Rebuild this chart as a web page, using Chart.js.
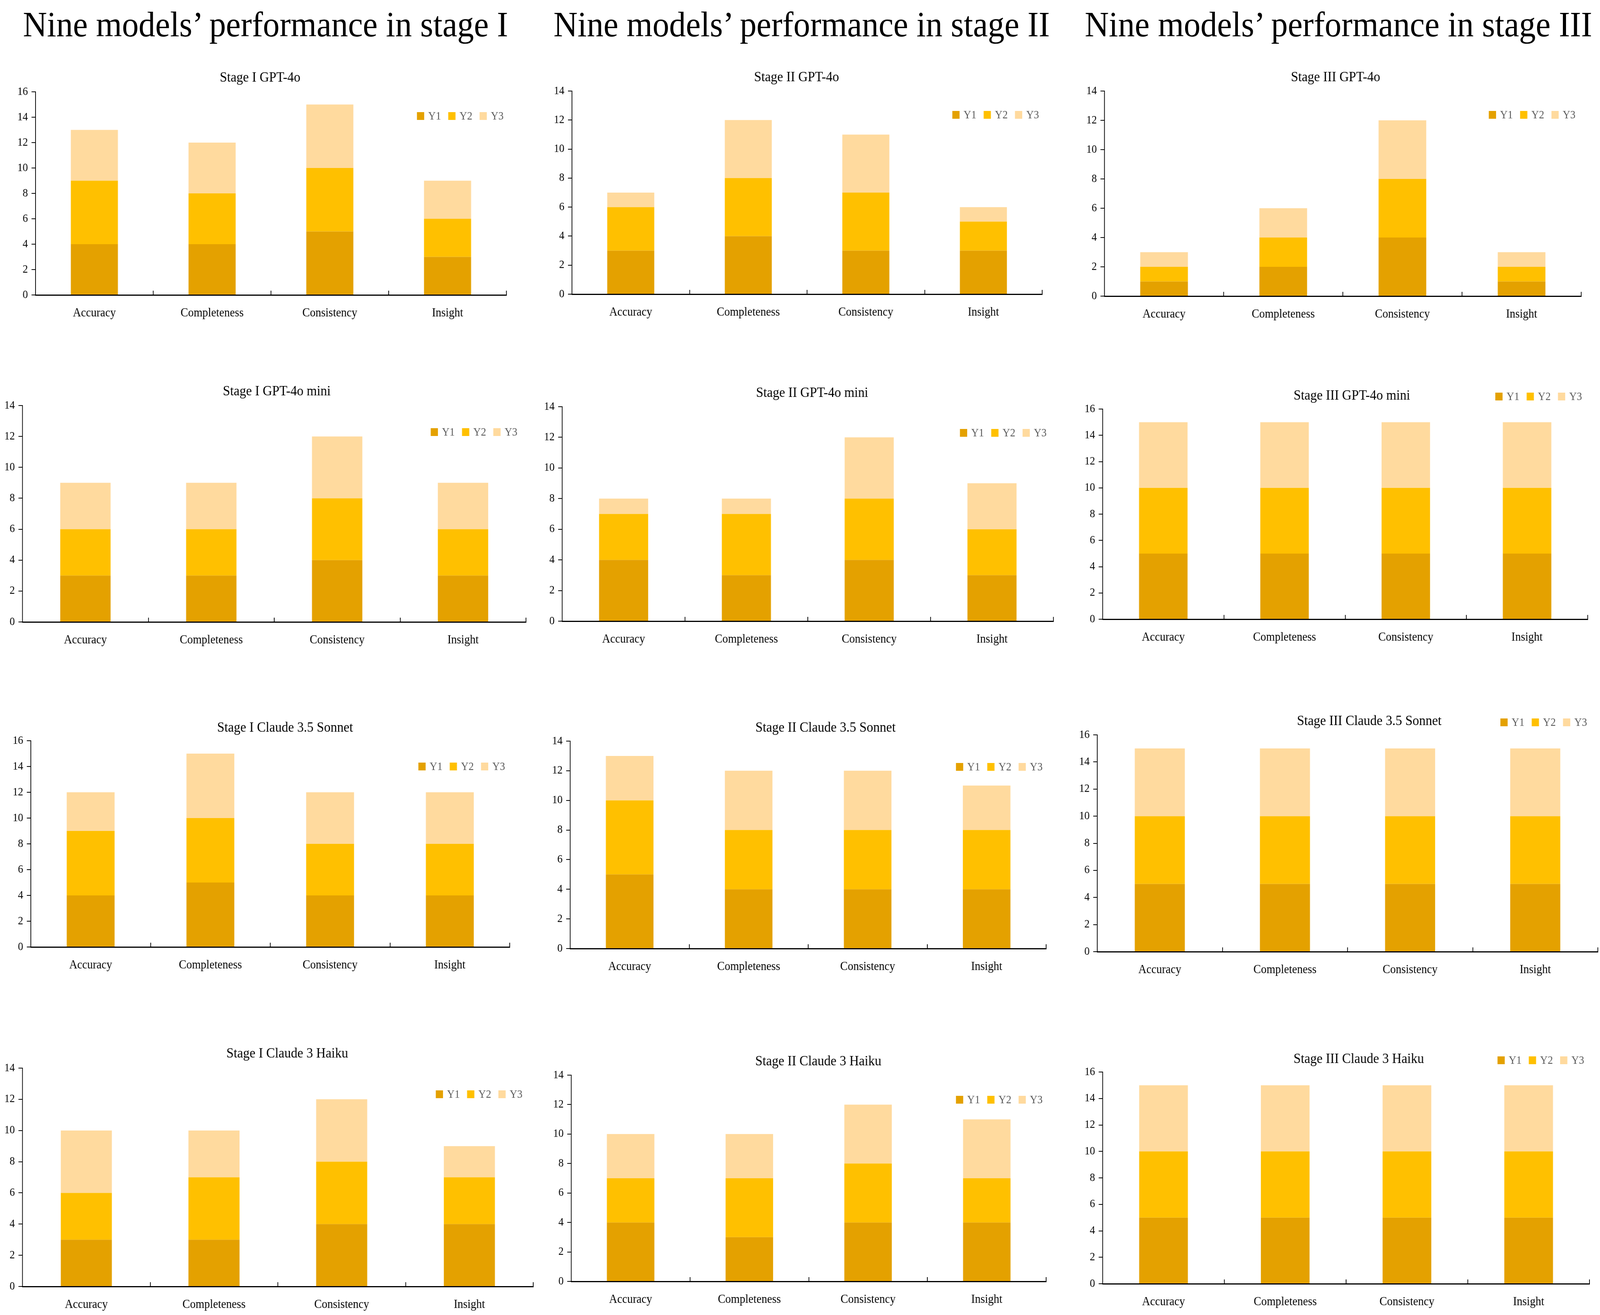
<!DOCTYPE html>
<html>
<head>
<meta charset="utf-8">
<title>Nine models' performance by stage</title>
<script src="https://cdn.jsdelivr.net/npm/chart.js@4.4.1/dist/chart.umd.min.js"></script>
<style>
    html, body { margin: 0; padding: 0; background: #fff; overflow: hidden; }
    #viewport { position: relative; overflow: hidden; }
    #page { position: absolute; left: 0; top: 0; width: 4417px; height: 3366px; transform-origin: 0 0; }
    .stage-title {
        position: absolute;
        top: 16px;
        font: 92px/1 "Liberation Serif", "DejaVu Serif", serif;
        color: #000;
        white-space: nowrap;
        transform: translateX(-50%);
    }
    canvas { position: absolute; }
</style>
</head>
<body>
<div id="viewport">
<div id="page">
    <div class="stage-title" style="left:733px">Nine models’ performance in stage I</div>
    <div class="stage-title" style="left:2213px">Nine models’ performance in stage II</div>
    <div class="stage-title" style="left:3695px">Nine models’ performance in stage III</div>
</div>
</div>

<script>
const FONT = '"Liberation Serif", "DejaVu Serif", serif';
const PAGE_W = 4417;
const PAGE_H = 3366;

const categories = ['Accuracy', 'Completeness', 'Consistency', 'Insight'];
const seriesNames = ['Y1', 'Y2', 'Y3'];
const seriesColors = ['#E4A100', '#FFC000', '#FFDA9E'];

// values per panel, one row per series: [Y1, Y2, Y3]
const stage1Gpt4o      = [[4, 4, 5, 3], [5, 4, 5, 3], [4, 4, 5, 3]];
const stage2Gpt4o      = [[3, 4, 3, 3], [3, 4, 4, 2], [1, 4, 4, 1]];
const stage3Gpt4o      = [[1, 2, 4, 1], [1, 2, 4, 1], [1, 2, 4, 1]];
const stage1Gpt4oMini  = [[3, 3, 4, 3], [3, 3, 4, 3], [3, 3, 4, 3]];
const stage2Gpt4oMini  = [[4, 3, 4, 3], [3, 4, 4, 3], [1, 1, 4, 3]];
const stage3Gpt4oMini  = [[5, 5, 5, 5], [5, 5, 5, 5], [5, 5, 5, 5]];
const stage1Sonnet     = [[4, 5, 4, 4], [5, 5, 4, 4], [3, 5, 4, 4]];
const stage2Sonnet     = [[5, 4, 4, 4], [5, 4, 4, 4], [3, 4, 4, 3]];
const stage3Sonnet     = [[5, 5, 5, 5], [5, 5, 5, 5], [5, 5, 5, 5]];
const stage1Haiku      = [[3, 3, 4, 4], [3, 4, 4, 3], [4, 3, 4, 2]];
const stage2Haiku      = [[4, 3, 4, 4], [3, 4, 4, 3], [3, 3, 4, 4]];
const stage3Haiku      = [[5, 5, 5, 5], [5, 5, 5, 5], [5, 5, 5, 5]];

const panelValues = [
    stage1Gpt4o, stage2Gpt4o, stage3Gpt4o,
    stage1Gpt4oMini, stage2Gpt4oMini, stage3Gpt4oMini,
    stage1Sonnet, stage2Sonnet, stage3Sonnet,
    stage1Haiku, stage2Haiku, stage3Haiku
];

const panelTitles = [
    'Stage I GPT-4o', 'Stage II GPT-4o', 'Stage III GPT-4o',
    'Stage I GPT-4o mini', 'Stage II GPT-4o mini', 'Stage III GPT-4o mini',
    'Stage I Claude 3.5 Sonnet', 'Stage II Claude 3.5 Sonnet', 'Stage III Claude 3.5 Sonnet',
    'Stage I Claude 3 Haiku', 'Stage II Claude 3 Haiku', 'Stage III Claude 3 Haiku'
];

const axisMax = [16, 14, 14, 14, 14, 16, 16, 14, 16, 14, 14, 16];

// page positions: [axisX, plotTop, plotRight, zeroY, titleX, titleY, legendX, legendY]
const panelLayout = [
    [98,   235,  1398, 755,  718,  200,  1151, 297],
    [1579, 233,  2877, 753,  2199, 199,  2629, 294],
    [3049, 233,  4365, 758,  3687, 199,  4110, 294],
    [62,   1038, 1452, 1592, 764,  1003, 1189, 1106],
    [1552, 1041, 2908, 1590, 2242, 1007, 2650, 1108],
    [3044, 1047, 4383, 1585, 3732, 1014, 4128, 1015],
    [85,   1896, 1407, 2424, 787,  1864, 1155, 1962],
    [1574, 1897, 2888, 2428, 2279, 1864, 2639, 1963],
    [3029, 1881, 4411, 2436, 3780, 1847, 4142, 1849],
    [62,   2734, 1472, 3293, 793,  2698, 1203, 2801],
    [1577, 2752, 2888, 3280, 2259, 2718, 2639, 2815],
    [3044, 2744, 4388, 3286, 3751, 2712, 4134, 2714]
];

const Y_AXIS_W = 70;
const X_AXIS_H = 80;

// draws the panel title and the small legend row
const panelText = {
    id: 'panelText',
    afterDraw(chart, args, opts) {
        const ctx = chart.ctx;
        ctx.save();
        ctx.fillStyle = '#000';
        ctx.font = '36px ' + FONT;
        ctx.textAlign = 'center';
        ctx.textBaseline = 'middle';
        ctx.fillText(opts.text, opts.titleX, opts.titleY);

        ctx.font = '29px ' + FONT;
        ctx.textAlign = 'left';
        let x = opts.legendX;
        chart.data.datasets.forEach(ds => {
            ctx.fillStyle = ds.backgroundColor;
            ctx.fillRect(x, opts.legendY - 10, 20, 20);
            x += 31;
            ctx.fillStyle = '#595959';
            ctx.fillText(ds.label, x, opts.legendY + 1);
            x += ctx.measureText(ds.label).width + 20;
        });
        ctx.restore();
    }
};

// the browser viewport may be smaller than 4417x3366: stretch the fixed layout onto it
function fitPage() {
    const sx = window.innerWidth / PAGE_W;
    const sy = window.innerHeight / PAGE_H;
    const vp = document.getElementById('viewport');
    vp.style.width = window.innerWidth + 'px';
    vp.style.height = window.innerHeight + 'px';
    document.getElementById('page').style.transform = 'scale(' + sx + ',' + sy + ')';
}

function createPanel(i) {
    const [axisX, plotTop, plotRight, zeroY, titleX, titleY, legendX, legendY] = panelLayout[i];
    const left = axisX - Y_AXIS_W;
    const top = titleY - 40;
    const right = Math.min(PAGE_W, Math.max(plotRight, legendX + 250) + 12);
    const bottom = zeroY + X_AXIS_H;

    const canvas = document.createElement('canvas');
    canvas.width = right - left;
    canvas.height = bottom - top;
    canvas.style.left = left + 'px';
    canvas.style.top = top + 'px';
    canvas.style.width = canvas.width + 'px';
    canvas.style.height = canvas.height + 'px';
    document.getElementById('page').appendChild(canvas);

    const values = panelValues[i];

    new Chart(canvas.getContext('2d'), {
        type: 'bar',
        data: {
            labels: categories,
            datasets: seriesNames.map((name, s) => ({
                label: name,
                data: values[s],
                backgroundColor: seriesColors[s],
                borderWidth: 0,
                barPercentage: 0.4,
                categoryPercentage: 1
            }))
        },
        options: {
            responsive: false,
            animation: false,
            devicePixelRatio: 1,
            layout: {
                padding: { top: plotTop - top, right: right - plotRight, left: 0, bottom: 0 }
            },
            plugins: {
                legend: { display: false },
                title: { display: false },
                tooltip: { enabled: false },
                panelText: {
                    text: panelTitles[i],
                    titleX: titleX - left,
                    titleY: titleY - top,
                    legendX: legendX - left,
                    legendY: legendY - top
                }
            },
            scales: {
                x: {
                    stacked: true,
                    grid: { drawOnChartArea: false, drawTicks: true, tickLength: -11, color: '#000', lineWidth: 2 },
                    border: { display: true, color: '#000', width: 3 },
                    ticks: { color: '#000', font: { family: FONT, size: 31 }, padding: 39, maxRotation: 0, autoSkip: false },
                    afterFit: scale => { scale.height = X_AXIS_H; }
                },
                y: {
                    stacked: true,
                    min: 0,
                    max: axisMax[i],
                    ticks: { stepSize: 2, color: '#000', font: { family: FONT, size: 29 }, padding: 10 },
                    grid: { drawOnChartArea: false, drawTicks: true, tickLength: 11, color: '#000', lineWidth: 2 },
                    border: { display: true, color: '#000', width: 2 },
                    afterFit: scale => { scale.width = Y_AXIS_W; }
                }
            }
        },
        plugins: [panelText]
    });
}

fitPage();
window.addEventListener('load', () => {
    fitPage();
    panelLayout.forEach((_, i) => createPanel(i));
});
</script>
</body>
</html>
